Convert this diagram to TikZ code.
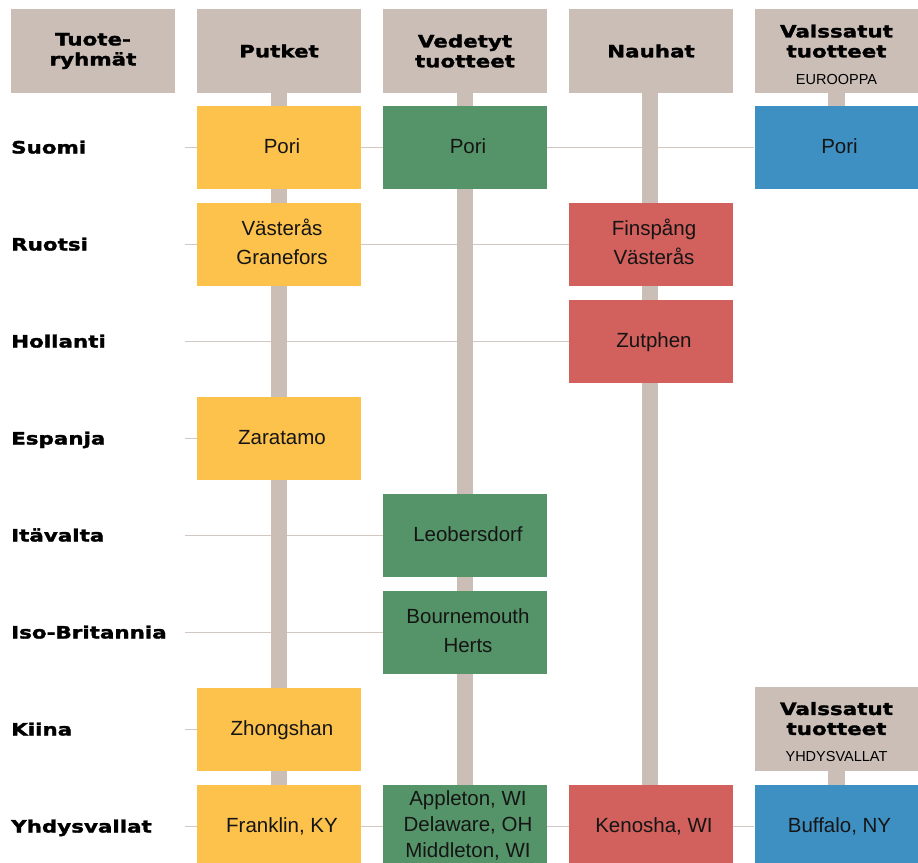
\documentclass[tikz,border=0pt]{standalone}
\usepackage{fontspec}
\setmainfont{Liberation Sans}
\newfontfamily\hdfont[FakeStretch=1.26,BoldFeatures={FakeBold=1.8}]{DejaVu Sans}
\newcommand\plc[1]{\hspace*{6pt}\begin{tabular}{@{}c@{}}#1\end{tabular}}
\definecolor{hdrc}{HTML}{CBBEB6}
\definecolor{linec}{HTML}{D3C8C1}
\definecolor{yelc}{HTML}{FDC24C}
\definecolor{grnc}{HTML}{549468}
\definecolor{redc}{HTML}{D2605C}
\definecolor{bluc}{HTML}{3E90C2}
\definecolor{txt}{HTML}{151515}
\pgfdeclarelayer{bg}
\pgfdeclarelayer{mid}
\pgfsetlayers{bg,mid,main}
\begin{document}
\begin{tikzpicture}[x=1pt,y=-1pt,
  hdr/.style={fill=hdrc,minimum width=164pt,minimum height=84pt,inner sep=0pt,align=center,
    font=\hdfont\bfseries\fontsize{17}{20}\selectfont,text=black},
  place/.style={minimum width=164pt,minimum height=83.5pt,inner sep=0pt,
    font=\fontsize{20.5}{29}\selectfont,text=txt},
  pyel/.style={place,fill=yelc},
  pgrn/.style={place,fill=grnc},
  pred/.style={place,fill=redc},
  pblu/.style={place,fill=bluc},
  rowlab/.style={anchor=west,inner sep=0pt,font=\hdfont\bfseries\fontsize{17}{20}\selectfont,
    text height=12pt,text depth=0pt,text=black},
  link/.style={draw=linec,line width=1.2pt},
  bar/.style={fill=hdrc}]
\clip (0,0) rectangle (918,862);
% headers
\node[hdr] (h0) at (93,51) {Tuote-\\ryhmät};
\node[hdr] (h1) at (279,51) {Putket};
\node[hdr] (h2) at (465,51) {Vedetyt\\tuotteet};
\node[hdr] (h3) at (651,51) {Nauhat};
\node[hdr] (h4) at (836.5,51) {\rule{0pt}{20pt}Valssatut\\tuotteet\\[7pt]{\normalfont\fontsize{14.5}{20}\selectfont EUROOPPA}};
% row labels
\node[rowlab] (l1) at (11,147.5) {Suomi};
\node[rowlab] (l2) at (11,244.5) {Ruotsi};
\node[rowlab] (l3) at (11,341.5) {Hollanti};
\node[rowlab] (l4) at (11,438.5) {Espanja};
\node[rowlab] (l5) at (11,535.5) {Itävalta};
\node[rowlab] (l6) at (11,632.5) {Iso-Britannia};
\node[rowlab] (l7) at (11,729.5) {Kiina};
\node[rowlab] (l8) at (11,826.5) {Yhdysvallat};
% line starts
\coordinate (s1) at (185,147.5);
\coordinate (s2) at (185,244.5);
\coordinate (s3) at (185,341.5);
\coordinate (s4) at (185,438.5);
\coordinate (s5) at (185,535.5);
\coordinate (s6) at (185,632.5);
\coordinate (s7) at (185,729.5);
\coordinate (s8) at (185,826.5);
% boxes
\node[pyel] (p1) at (279,147.5) {\plc{Pori}};
\node[pgrn] (v1) at (465,147.5) {\plc{Pori}};
\node[pblu] (e1) at (836.5,147.5) {\plc{Pori}};
\node[pyel] (p2) at (279,244.5) {\plc{Västerås\\Granefors}};
\node[pred] (n2) at (651,244.5) {\plc{Finspång\\Västerås}};
\node[pred] (n3) at (651,341.5) {\plc{Zutphen}};
\node[pyel] (p4) at (279,438.5) {\plc{Zaratamo}};
\node[pgrn] (v5) at (465,535.5) {\plc{Leobersdorf}};
\node[pgrn] (v6) at (465,632.5) {\plc{Bournemouth\\Herts}};
\node[pyel] (p7) at (279,729.5) {\plc{Zhongshan}};
\node[hdr] (h5) at (836.5,728.5) {\rule{0pt}{20pt}Valssatut\\tuotteet\\[7pt]{\normalfont\fontsize{14.5}{20}\selectfont YHDYSVALLAT}};
\node[pyel] (p8) at (279,826.5) {\plc{Franklin, KY}};
\node[pgrn,font=\fontsize{20.5}{26}\selectfont] (v8) at (465,826.5) {\plc{Appleton, WI\\Delaware, OH\\Middleton, WI}};
\node[pred] (n8) at (651,826.5) {\plc{Kenosha, WI}};
\node[pblu] (u8) at (836.5,826.5) {\plc{Buffalo, NY}};
% vertical bars
\begin{pgfonlayer}{mid}
\fill[bar] ([xshift=-8pt]h1.south) rectangle ([xshift=8pt]p8.north);
\fill[bar] ([xshift=-8pt]h2.south) rectangle ([xshift=8pt]v8.north);
\fill[bar] ([xshift=-9pt]h3.south) rectangle ([xshift=7pt]n8.north);
\fill[bar] ([xshift=-9pt]h4.south) rectangle ([xshift=8pt]e1.north);
\fill[bar] ([xshift=-9pt]h5.south) rectangle ([xshift=8pt]u8.north);
\end{pgfonlayer}
% horizontal links
\begin{pgfonlayer}{bg}
\draw[link] (s1) -- (e1.west);
\draw[link] (s2) -- (n2.west);
\draw[link] (s3) -- (n3.west);
\draw[link] (s4) -- (p4.west);
\draw[link] (s5) -- (v5.west);
\draw[link] (s6) -- (v6.west);
\draw[link] (s7) -- (p7.west);
\draw[link] (s8) -- (u8.west);
\end{pgfonlayer}
\end{tikzpicture}
\end{document}
